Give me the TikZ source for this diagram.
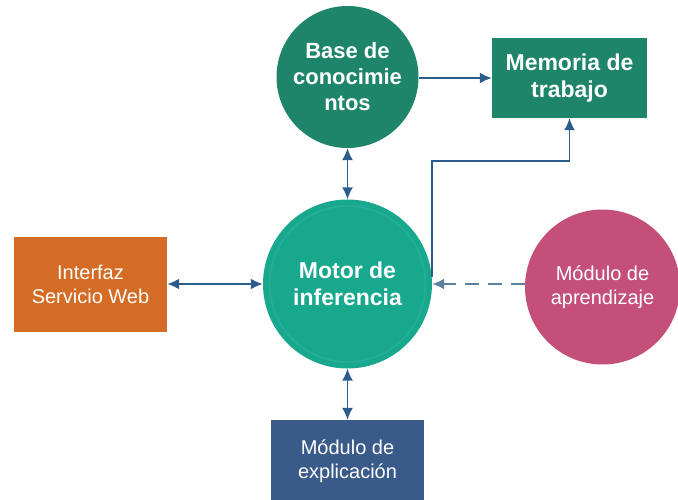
\documentclass[tikz,border=0pt]{standalone}
\usepackage{fontspec}
\setmainfont{Liberation Sans}
\usetikzlibrary{positioning,arrows.meta,calc}
\definecolor{BaseGreen}{RGB}{30,133,106}
\definecolor{MotorTeal}{RGB}{24,168,142}
\definecolor{MotorRing}{RGB}{36,175,149}
\definecolor{WebOrange}{RGB}{212,108,38}
\definecolor{LearnPink}{RGB}{196,80,122}
\definecolor{ExplBlue}{RGB}{58,90,138}
\definecolor{ArrowBlue}{RGB}{44,92,140}
\definecolor{DashBlue}{RGB}{92,128,160}

\begin{document}
\begin{tikzpicture}[
    x=1pt, y=-1pt,
    every node/.style={text=white, align=center, inner sep=0pt},
    boldtext/.style={font=\bfseries\fontsize{23}{27}\selectfont},
    plaintext/.style={font=\fontsize{20}{24}\selectfont},
    roundbox/.style={circle, minimum size=#1},
    squarebox/.style={rectangle},
    link/.style={draw=ArrowBlue, line width=1.8pt, -{Latex[length=12pt,width=11pt]}},
    biglink/.style={link, {Latex[length=12pt,width=11pt]}-{Latex[length=12pt,width=11pt]}},
]
\useasboundingbox (0,0) rectangle (678,500);

% nodes
\node[roundbox=142pt, fill=BaseGreen, boldtext, font=\bfseries\fontsize{22}{26}\selectfont] (base) at (347.5,77) {Base de\\conocimie\\ntos};
\node[squarebox, fill=BaseGreen, boldtext, minimum width=155pt, minimum height=80pt] (memoria) at (569.5,78) {Memoria de\\trabajo};
\node[roundbox=169pt, fill=MotorTeal, boldtext,
      path picture={\draw[MotorRing, line width=2pt] (path picture bounding box.center) circle (78pt);}] (motor) at (347.5,284) {Motor de\\inferencia};
\node[squarebox, fill=WebOrange, plaintext, minimum width=153pt, minimum height=95pt] (web) at (90.5,284.5) {Interfaz\\Servicio Web};
\node[roundbox=155pt, fill=LearnPink, plaintext] (aprendizaje) at (602.5,287) {Módulo de\\aprendizaje};
\node[squarebox, fill=ExplBlue, plaintext, minimum width=153pt, minimum height=82pt] (explicacion) at (347.5,461) {Módulo de\\explicación};

% connectors
\draw[link] (base.east |- memoria.west) -- (memoria.west);
\draw[biglink, line width=1.5pt] (base.south) -- (motor.north);
\draw[biglink, line width=2.2pt] (web.east |- motor.west) -- (motor.west);
\draw[biglink, line width=1.5pt] (motor.south) -- (explicacion.north);
\coordinate (corner) at (431,161);
\draw[link, line width=1.5pt] (motor.5) -- (motor.5 |- corner) -- (corner -| memoria.south) -- (memoria.south);
\draw[link, draw=DashBlue, dash pattern=on 14pt off 9pt] (aprendizaje.west |- motor.east) -- (motor.east);
\end{tikzpicture}
\end{document}
